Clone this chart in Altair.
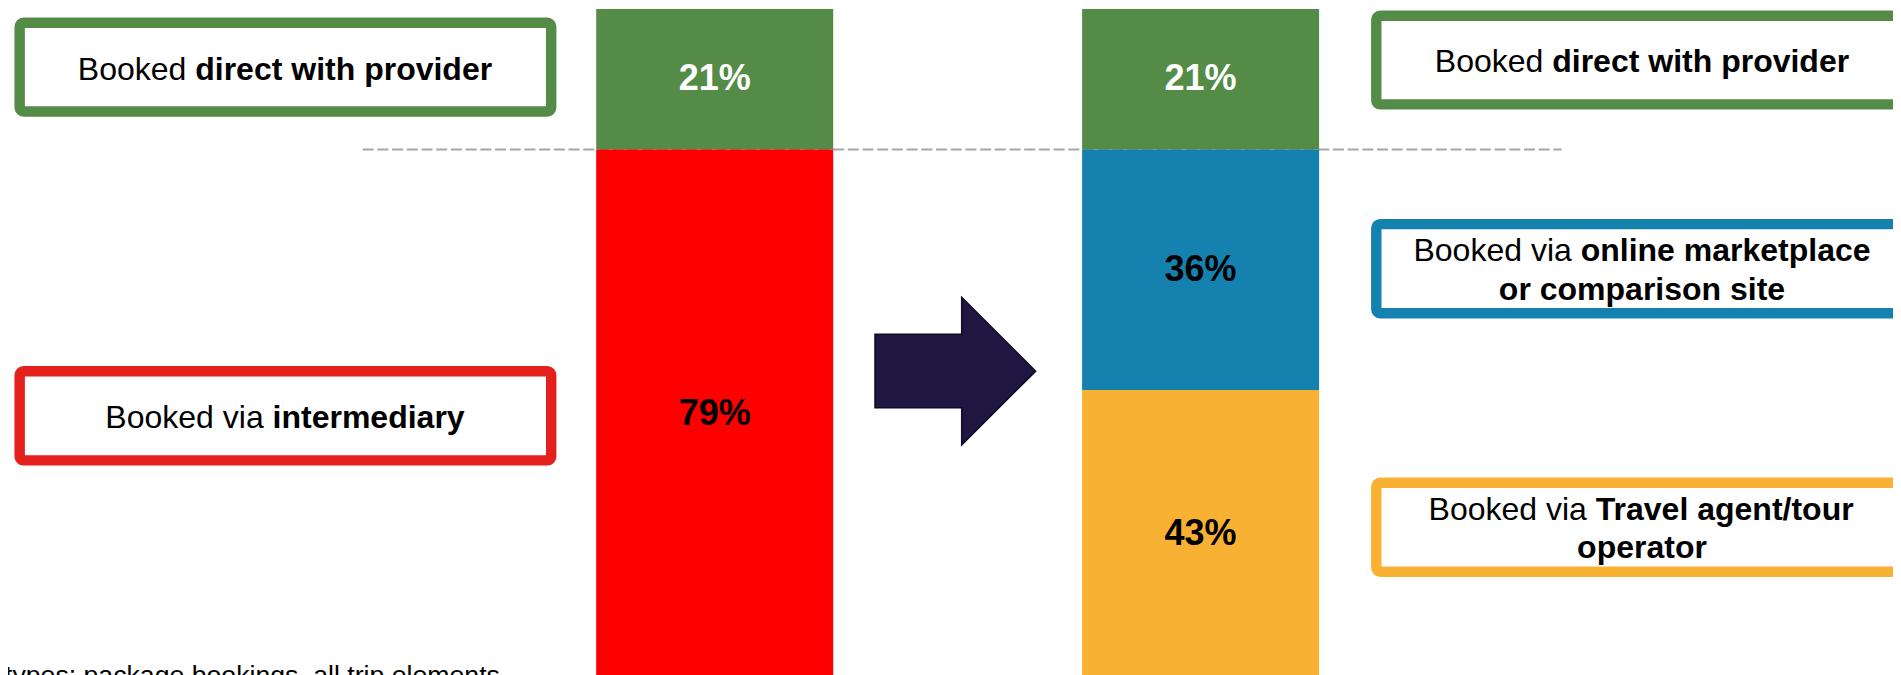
import altair as alt
import pandas as pd

# ---------------- data ----------------
stages = ["Before", "After"]
seg_stage = ["Before", "Before", "After", "After", "After"]
seg_channel = ["direct", "intermediary", "direct", "online", "agent"]
seg_value = [21, 79, 21, 36, 43]

channels = ["direct", "intermediary", "online", "agent"]

box_channel = ["direct", "intermediary", "direct", "online", "agent"]
box_side = ["left", "left", "right", "right", "right"]
box_lines = [
    [[("Booked ", False), ("direct with provider", True)]],
    [[("Booked via ", False), ("intermediary", True)]],
    [[("Booked ", False), ("direct with provider", True)]],
    [[("Booked via ", False), ("online marketplace", True)], [("or comparison site", True)]],
    [[("Booked via ", False), ("Travel agent/tour", True)], [("operator", True)]],
]
note_text = "types: package bookings, all trip elements"

# ---------------- styles ----------------
bar_colors = ["#548B46", "#FF0000", "#1581AF", "#F8B133"]
box_colors = {"direct": "#548B46", "intermediary": "#E3201B", "online": "#1581AF", "agent": "#F8B133"}
FONT = "Liberation Sans"
W, H = 1885, 667

# ---------------- layout (pixels) ----------------
BAR_X = [706.7, 1192.6]
BAR_W = 237
Y_RANGE = [1, 669.6]
box_x = {"left": (11.65, 543.2), "right": (1368.3, 1900)}
box_cx = {"left": 277, "right": 1634}
box_y = [(14.8, 103.5), (363.3, 452.4), (7.7, 96.4), (216.1, 305.2), (474.8, 563.7)]
box_base = [[72.1], [420.3], [63.9], [253.3, 291.7], [511.6, 550.0]]
FS = 32

REG = {' ': 278, 'B': 667, 'o': 556, 'k': 500, 'e': 556, 'd': 556, 'v': 500, 'i': 222, 'a': 556}
BOLD = {' ': 278, 'a': 556, 'c': 556, 'd': 611, 'e': 556, 'g': 611, 'h': 611, 'i': 278, 'k': 556,
        'l': 278, 'm': 889, 'n': 611, 'o': 611, 'p': 611, 'r': 389, 's': 556, 't': 333, 'u': 611,
        'v': 556, 'w': 778, 'y': 556, 'T': 611, '/': 278}


def tw(s, bold):
    t = BOLD if bold else REG
    return sum(t.get(c, 556) for c in s) * FS / 1000.0


# ---------------- tables ----------------
seg = pd.DataFrame({"stage": seg_stage, "channel": seg_channel, "value": seg_value})
seg["end"] = seg.groupby("stage")["value"].cumsum()
seg["start"] = seg["end"] - seg["value"]
seg["mid"] = (seg["start"] + seg["end"]) / 2
seg["label"] = seg["value"].astype(str) + "%"

boxes = pd.DataFrame({
    "x": [box_x[s][0] for s in box_side],
    "x2": [box_x[s][1] for s in box_side],
    "y": [b[0] for b in box_y],
    "y2": [b[1] for b in box_y],
    "col": [box_colors[c] for c in box_channel],
})

rows = []
for i, lines in enumerate(box_lines):
    cx = box_cx[box_side[i]]
    for j, parts in enumerate(lines):
        total = sum(tw(t, b) for t, b in parts)
        x = cx - total / 2
        for t, b in parts:
            rows.append({"px": x, "py": box_base[i][j], "txt": t, "w": "bold" if b else "normal"})
            x += tw(t, b)
texts = pd.DataFrame(rows)

# ---------------- chart ----------------
xs = alt.Scale(type="point", domain=stages, range=BAR_X, padding=0)
ys = alt.Scale(domain=[0, 100], range=Y_RANGE, nice=False, zero=False)

boundary = alt.Chart(seg).transform_filter(
    (alt.datum.stage == stages[0]) & (alt.datum.channel == "direct")
).mark_rule(color="#A6A6A6", strokeWidth=2, strokeDash=[11, 3.7]).encode(
    x=alt.value(354.7), x2=alt.value(1553.7),
    y=alt.Y("end:Q", scale=ys, axis=None),
)

bars = alt.Chart(seg).mark_bar(size=BAR_W).encode(
    x=alt.X("stage:N", scale=xs, axis=None),
    y=alt.Y("start:Q", scale=ys, axis=None),
    y2="end:Q",
    color=alt.Color("channel:N", scale=alt.Scale(domain=channels, range=bar_colors), legend=None),
)

pct = alt.Chart(seg).mark_text(
    font=FONT, fontSize=36, fontWeight="bold", align="center", baseline="middle"
).encode(
    x=alt.X("stage:N", scale=xs, axis=None),
    y=alt.Y("mid:Q", scale=ys, axis=None),
    text="label:N",
    color=alt.when(alt.datum.channel == "direct").then(alt.value("white")).otherwise(alt.value("black")),
)

bar_group = alt.layer(boundary, bars, pct)

box_layer = alt.Chart(boxes).mark_rect(fill="white", strokeWidth=10.4, cornerRadius=4).encode(
    x=alt.X("x:Q", scale=None, axis=None), x2="x2:Q",
    y=alt.Y("y:Q", scale=None, axis=None), y2="y2:Q",
    stroke=alt.Stroke("col:N", scale=None),
)

txt_norm = alt.Chart(texts).transform_filter(alt.datum.w == "normal").mark_text(
    font=FONT, fontSize=FS, align="left", baseline="alphabetic", color="black"
).encode(
    x=alt.X("px:Q", scale=None, axis=None), y=alt.Y("py:Q", scale=None, axis=None), text="txt:N"
)
txt_bold = alt.Chart(texts).transform_filter(alt.datum.w == "bold").mark_text(
    font=FONT, fontSize=FS, fontWeight="bold", align="left", baseline="alphabetic", color="black"
).encode(
    x=alt.X("px:Q", scale=None, axis=None), y=alt.Y("py:Q", scale=None, axis=None), text="txt:N"
)

arrow_path = "M-1,-0.4586 L0.079,-0.4586 L0.079,-0.919 L1,0 L0.079,0.919 L0.079,0.4549 L-1,0.4549 Z"
arrow = alt.Chart(pd.DataFrame({"a": [1]})).mark_point(
    shape=arrow_path, size=25824, filled=True, fill="#1F1742", stroke="#0E0B22",
    strokeWidth=1.5, opacity=1
).encode(x=alt.value(947.35), y=alt.value(363.15))

note = alt.Chart(pd.DataFrame({"t": [note_text]})).mark_text(
    font=FONT, fontSize=26.67, align="left", baseline="alphabetic", color="black"
).encode(x=alt.value(-3), y=alt.value(676), text="t:N")

annot = alt.layer(box_layer, txt_norm, txt_bold, arrow, note)

chart = alt.layer(bar_group, annot).resolve_scale(
    x="independent", y="independent", color="independent"
).properties(
    width=W, height=H, padding=0, autosize=alt.AutoSizeParams(type="none"),
    background="white",
).configure_view(strokeWidth=0)

chart.save("out.html", embed_options={"renderer": "svg", "actions": False})
